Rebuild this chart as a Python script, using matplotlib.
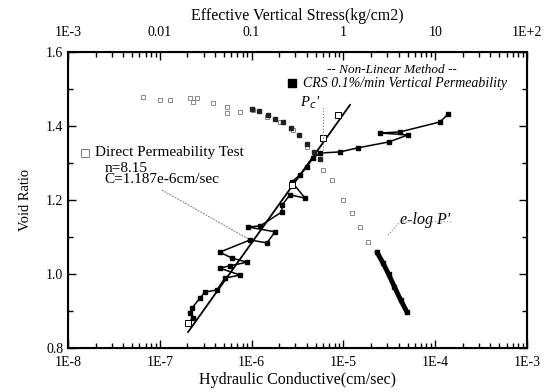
import matplotlib.pyplot as plt
import matplotlib.ticker as mticker
import numpy as np

plt.rcParams['font.family'] = ['Liberation Serif', 'DejaVu Serif']

# bottom axis: hydraulic conductivity (cm/sec) vs void ratio
crs_k = [1.38e-4, 1.13e-4, 4.14e-5, 2.51e-5, 5.06e-5, 3.14e-5, 1.44e-5, 9.2e-6, 5.6e-6,
         4.67e-6, 4.0e-6, 3.36e-6, 2.75e-6, 3.82e-6, 2.62e-6, 2.14e-6, 2.14e-6, 1.24e-6,
         9.1e-7, 1.80e-6, 1.47e-6, 9.6e-7, 4.5e-7, 6.1e-7, 8.9e-7, 5.8e-7, 4.5e-7, 7.5e-7,
         5.1e-7, 4.2e-7, 3.1e-7, 2.74e-7, 2.24e-7, 2.13e-7, 2.3e-7, 2.03e-7]
crs_e = [1.432, 1.411, 1.384, 1.381, 1.376, 1.357, 1.341, 1.330, 1.327,
         1.314, 1.289, 1.268, 1.249, 1.205, 1.214, 1.186, 1.168, 1.130,
         1.127, 1.114, 1.084, 1.092, 1.059, 1.043, 1.032, 1.022, 1.016, 0.997,
         0.989, 0.957, 0.951, 0.935, 0.908, 0.895, 0.881, 0.868]

direct_line_k = [2.03e-7, 1.18e-5]
direct_line_e = [0.843, 1.457]
direct_k = [8.7e-6, 6.0e-6, 2.75e-6, 2.03e-7]
direct_e = [1.430, 1.368, 1.241, 0.868]

# top axis: effective vertical stress (kg/cm2) vs void ratio
elogp_p = [0.0066, 0.010, 0.0129, 0.0213, 0.0254, 0.023, 0.038, 0.054, 0.054, 0.0748,
           0.1035, 0.147, 0.204, 0.282, 0.401, 0.60, 0.75, 0.99, 1.24, 1.52, 1.85, 2.32]
elogp_e = [1.478, 1.470, 1.470, 1.476, 1.476, 1.465, 1.462, 1.451, 1.435, 1.438,
           1.443, 1.424, 1.411, 1.389, 1.343, 1.281, 1.254, 1.200, 1.165, 1.127, 1.086, 1.059]
crs_p = [0.10, 0.12, 0.15, 0.18, 0.22, 0.27, 0.33, 0.40, 0.48, 0.55]
crs_pe = [1.445, 1.440, 1.430, 1.420, 1.410, 1.395, 1.375, 1.350, 1.330, 1.310]
dense_p = [2.32, 2.7, 3.1, 3.6, 4.2, 4.93]
dense_e = [1.059, 1.030, 1.000, 0.965, 0.930, 0.897]

pc = 0.6  # preconsolidation pressure P'

fig = plt.figure(figsize=(5.52, 3.92), dpi=100)
ax = fig.add_axes([68 / 552, 44 / 392, 459 / 552, 296 / 392])

ax.plot(direct_line_k, direct_line_e, color='black', lw=1.3, zorder=3)
ax.plot(crs_k, crs_e, color='black', lw=1.1, marker='s', ms=3.5, zorder=4)
ax.plot(direct_k, direct_e, ls='none', marker='s', ms=4, mfc='white', mec='black', mew=0.7, zorder=5)

ax.set_xscale('log')
ax.set_xlim(1e-8, 1e-3)
ax.set_ylim(0.8, 1.6)
ax.xaxis.set_major_locator(mticker.LogLocator(base=10, numticks=10))
ax.xaxis.set_minor_locator(mticker.LogLocator(base=10, subs=np.arange(2, 10), numticks=20))
ax.xaxis.set_major_formatter(mticker.FuncFormatter(lambda v, p: '1E%d' % round(np.log10(v))))
ax.xaxis.set_minor_formatter(mticker.NullFormatter())
ax.yaxis.set_major_locator(mticker.MultipleLocator(0.2))
ax.yaxis.set_minor_locator(mticker.MultipleLocator(0.1))
ax.yaxis.set_major_formatter(mticker.FormatStrFormatter('%.1f'))
ax.tick_params(which='both', direction='in', right=True, labelsize=10, width=1)
ax.tick_params(which='major', length=6)
ax.tick_params(which='minor', length=3.5)
ax.tick_params(axis='x', pad=6)
ax.set_xlabel('Hydraulic Conductive(cm/sec)', fontsize=11.5, labelpad=2)
ax.set_ylabel('Void Ratio', fontsize=10.5, labelpad=10)
for s in ax.spines.values():
    s.set_linewidth(1.5)

top = ax.twiny()
top.set_xscale('log')
top.set_xlim(1e-3, 1e2)
top.plot(elogp_p, elogp_e, ls='none', marker='s', ms=3.5, mfc='white', mec='#888888', mew=0.7)
top.plot(crs_p, crs_pe, ls='none', marker='s', ms=3, color='#222222')
top.plot(dense_p, dense_e, color='black', lw=3.5, marker='s', ms=3, solid_capstyle='round')
top.plot([pc, pc], [1.327, 1.451], ls=':', color='#777777', lw=0.8)
top.text(0.57, 1.462, "P$_c$'", fontsize=10.5, style='italic', ha='right', va='center')

labels = {1e-3: '1E-3', 1e-2: '0.01', 1e-1: '0.1', 1: '1', 10: '10', 100: '1E+2'}
top.xaxis.set_major_locator(mticker.FixedLocator(list(labels.keys())))
top.xaxis.set_minor_locator(mticker.LogLocator(base=10, subs=np.arange(2, 10), numticks=20))
top.xaxis.set_major_formatter(mticker.FuncFormatter(lambda v, p: labels.get(v, '')))
top.xaxis.set_minor_formatter(mticker.NullFormatter())
top.tick_params(which='both', direction='in', labelsize=10, width=1, pad=9)
top.tick_params(which='major', length=6)
top.tick_params(which='minor', length=3.5)
top.set_xlabel('Effective Vertical Stress(kg/cm2)', fontsize=11.5, labelpad=5)

# annotations
ax.text(0.706, 0.939, '-- Non-Linear Method --', transform=ax.transAxes, fontsize=9.5,
        style='italic', ha='center', va='center')
ax.plot([0.488], [0.895], 's', transform=ax.transAxes, color='black', ms=6)
ax.text(0.513, 0.895, 'CRS 0.1%/min Vertical Permeability', transform=ax.transAxes,
        fontsize=10, style='italic', va='center')
ax.plot([0.037], [0.659], 's', transform=ax.transAxes, mfc='white', mec='#777777', ms=6,
        mew=0.7, ls='none')
ax.text(0.059, 0.659, 'Direct Permeability Test', transform=ax.transAxes, fontsize=11,
        va='center')
ax.text(0.08, 0.608, 'n=8.15', transform=ax.transAxes, fontsize=11, va='center')
ax.text(0.08, 0.568, 'C=1.187e-6cm/sec', transform=ax.transAxes, fontsize=11, va='center')
ax.annotate('', xy=(1.0e-6, 1.09), xytext=(1.0e-7, 1.23),
            arrowprops=dict(arrowstyle='-', ls=':', color='#888888', lw=0.8))
ax.text(0.723, 0.42, 'e-log P\'', transform=ax.transAxes, fontsize=11.5, style='italic')
top.plot([3.06, 4.14, 15.2], [1.105, 1.141, 1.141], ls=':', color='#888888', lw=0.8)

fig.savefig('out.png', dpi=100)
